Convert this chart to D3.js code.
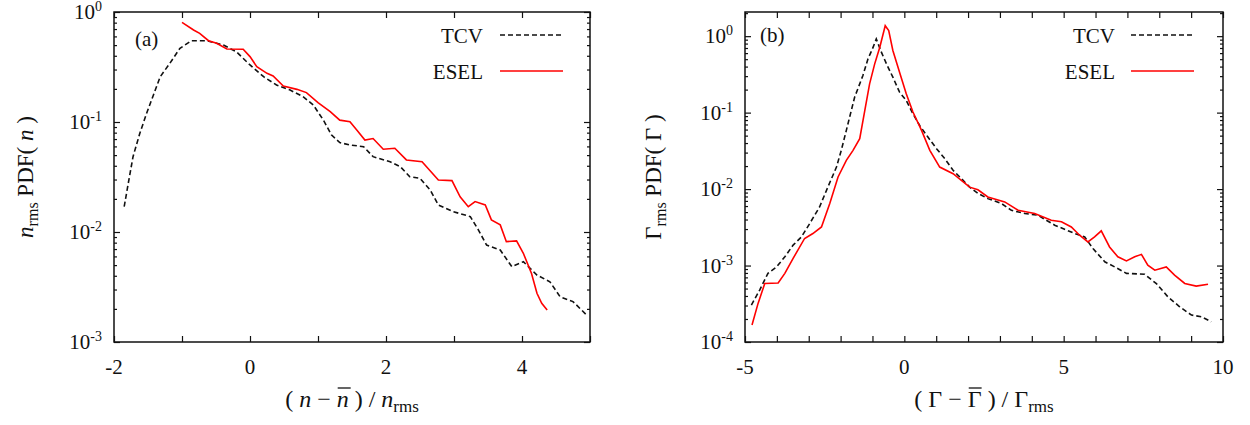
<!DOCTYPE html>
<html>
<head>
<meta charset="utf-8">
<script src="https://cdn.jsdelivr.net/npm/d3@7"></script>
<style>
  html, body { margin: 0; padding: 0; background: #fff; }
  svg text { font-family: "Liberation Serif", "Times New Roman", serif; fill: #111; }
</style>
</head>
<body>
<svg id="chart" width="1250" height="425" font-family="Liberation Serif, Times New Roman, serif"></svg>
<script>
// ---- data: normalised density PDFs (panel a) ----
const tcvDensity = [
  [-1.85,0.017],[-1.79,0.0277],[-1.72,0.0484],[-1.62,0.079],[-1.52,0.12],[-1.42,0.176],
  [-1.32,0.258],[-1.18,0.341],[-1.03,0.468],[-0.86,0.548],[-0.64,0.548],[-0.39,0.50],
  [-0.2,0.435],[0,0.33],[0.2,0.258],[0.39,0.217],[0.59,0.195],[0.78,0.170],[0.93,0.143],
  [1.08,0.104],[1.2,0.076],[1.32,0.065],[1.47,0.0618],[1.67,0.0597],[1.81,0.0484],
  [2.06,0.0435],[2.21,0.0393],[2.35,0.0318],[2.5,0.0308],[2.65,0.0241],[2.77,0.0176],
  [2.99,0.0153],[3.24,0.0138],[3.36,0.0104],[3.48,0.0076],[3.68,0.00686],[3.85,0.00484],
  [4.02,0.00537],[4.22,0.00406],[4.41,0.00353],[4.56,0.00258],[4.75,0.00233],[4.95,0.00176]
];
const eselDensity = [
  [-1.0,0.805],[-0.83,0.686],[-0.74,0.64],[-0.61,0.548],[-0.49,0.519],[-0.34,0.461],
  [-0.1,0.458],[0,0.393],[0.1,0.318],[0.25,0.277],[0.34,0.262],[0.49,0.212],[0.69,0.198],
  [0.83,0.185],[1.0,0.150],[1.18,0.124],[1.32,0.104],[1.47,0.1007],[1.57,0.0845],
  [1.69,0.0686],[1.81,0.0708],[1.96,0.0565],[2.13,0.0577],[2.3,0.0452],[2.53,0.0435],
  [2.77,0.0297],[2.97,0.0293],[3.09,0.0209],[3.21,0.017],[3.31,0.0189],[3.46,0.0176],
  [3.55,0.0129],[3.68,0.0116],[3.77,0.00817],[3.92,0.0083],[4.02,0.0064],[4.14,0.0042],
  [4.22,0.00277],[4.29,0.00225],[4.37,0.00195]
];

// ---- data: normalised particle flux PDFs (panel b) ----
const tcvFlux = [
  [-4.8,3.04e-4],[-4.54,4.78e-4],[-4.28,7.9e-4],[-4.01,9.6e-4],[-3.75,1.3e-3],[-3.49,1.85e-3],
  [-3.23,2.37e-3],[-2.97,3.54e-3],[-2.66,5.83e-3],[-2.4,0.0106],[-2.13,0.0194],[-1.98,0.032],
  [-1.82,0.0586],[-1.56,0.159],[-1.3,0.306],[-1.14,0.506],[-1.0,0.683],[-0.88,0.92],
  [-0.72,0.617],[-0.56,0.434],[-0.36,0.291],[-0.15,0.185],[0.06,0.144],[0.27,0.0966],
  [0.48,0.068],[0.74,0.0479],[1.01,0.0338],[1.27,0.025],[1.53,0.0176],[1.79,0.0137],
  [2.05,0.0106],[2.31,0.0088],[2.62,0.0075],[3.05,0.00647],[3.36,0.00528],[3.78,0.00479],
  [4.19,0.00455],[4.72,0.00337],[5.35,0.00262],[5.66,0.00237],[5.92,0.00167],[6.29,0.00112],
  [6.6,9.6e-4],[6.97,7.9e-4],[7.54,7.7e-4],[7.91,5.8e-4],[8.27,3.9e-4],[8.64,2.89e-4],
  [9.01,2.25e-4],[9.32,2.14e-4],[9.63,1.84e-4]
];
const eselFlux = [
  [-4.78,1.67e-4],[-4.59,3.2e-4],[-4.38,5.83e-4],[-3.96,5.9e-4],[-3.75,7.9e-4],[-3.49,1.24e-3],
  [-3.13,2.26e-3],[-2.87,2.62e-3],[-2.6,3.2e-3],[-2.34,6.47e-3],[-2.08,0.0144],[-1.82,0.0238],
  [-1.61,0.0321],[-1.4,0.0456],[-1.24,0.107],[-1.09,0.238],[-0.93,0.434],[-0.77,0.716],
  [-0.6,1.37],[-0.49,1.18],[-0.36,0.649],[-0.15,0.338],[0.06,0.177],[0.27,0.1017],
  [0.54,0.0586],[0.8,0.0321],[1.11,0.0194],[1.53,0.0159],[1.79,0.013],[2.05,0.0106],
  [2.31,0.0098],[2.62,0.0079],[3.15,0.0068],[3.57,0.00528],[4.09,0.00479],[4.61,0.00392],
  [4.93,0.00373],[5.24,0.0032],[5.5,0.00249],[5.76,0.00204],[5.97,0.00237],[6.18,0.00284],
  [6.44,0.00175],[6.7,0.0013],[6.97,0.00115],[7.23,0.0013],[7.44,0.0014],[7.64,0.00101],
  [7.86,8.7e-4],[8.22,9.6e-4],[8.48,7.5e-4],[8.8,5.83e-4],[9.16,5.38e-4],[9.53,5.7e-4]
];

// ---- axis ticks and labels ----
const xTicksA = [-2, -1, 0, 1, 2, 3, 4, 5];
const xLabelsA = [-2, 0, 2, 4];
const yDecadesA = [-3, -2, -1, 0];
const xTicksB = d3.range(-5, 11);
const xLabelsB = [-5, 0, 5, 10];
const yDecadesB = [-4, -3, -2, -1, 0];
const seriesNames = ["TCV", "ESEL"];
const seriesColors = ["#111", "#ff0000"];
const seriesDash = ["5,3", null];

const svg = d3.select("#chart");

function minorLogTicks(dom) {
  const out = [];
  const lo = Math.floor(Math.log10(dom[0])), hi = Math.ceil(Math.log10(dom[1]));
  for (let e = lo; e <= hi; e++) {
    for (let k = 2; k <= 9; k++) {
      const v = k * Math.pow(10, e);
      if (v > dom[0] && v < dom[1]) out.push(v);
    }
  }
  return out;
}

function drawPanel(p) {
  const g = svg.append("g");
  const x = d3.scaleLinear().domain(p.xDomain).range([p.left, p.right]);
  const y = d3.scaleLog().domain(p.yDomain).range([p.bottom, p.top]);
  const major = 6, minor = 3;

  const tickAxis = (axis, pos, vals, size) => {
    g.append("g").attr("transform", pos)
      .call(axis.tickValues(vals).tickSize(size).tickFormat(""))
      .call(s => s.select(".domain").remove())
      .call(s => s.selectAll("line").attr("stroke", "#111").attr("stroke-width", 1.2));
  };
  // x ticks, bottom and top, drawn inward
  tickAxis(d3.axisBottom(x), `translate(0,${p.bottom})`, p.xTicks, -major);
  tickAxis(d3.axisTop(x), `translate(0,${p.top})`, p.xTicks, -major);
  // y ticks on both sides
  const decades = p.yDecades.map(e => Math.pow(10, e));
  const minors = minorLogTicks(p.yDomain);
  tickAxis(d3.axisLeft(y), `translate(${p.left},0)`, decades, -major);
  tickAxis(d3.axisRight(y), `translate(${p.right},0)`, decades, -major);
  tickAxis(d3.axisLeft(y), `translate(${p.left},0)`, minors, -minor);
  tickAxis(d3.axisRight(y), `translate(${p.right},0)`, minors, -minor);

  // frame
  g.append("rect")
    .attr("x", p.left).attr("y", p.top)
    .attr("width", p.right - p.left).attr("height", p.bottom - p.top)
    .attr("fill", "none").attr("stroke", "#111").attr("stroke-width", 1.5);

  // x tick labels
  g.selectAll(".xl").data(p.xLabels).enter().append("text")
    .attr("x", d => x(d)).attr("y", p.bottom + 32)
    .attr("text-anchor", "middle").attr("font-size", 21)
    .text(d => d < 0 ? "-" + Math.abs(d) : d);

  // y tick labels: 10^e
  p.yDecades.forEach(e => {
    const t = g.append("text")
      .attr("x", p.left - 12).attr("y", y(Math.pow(10, e)) + 7)
      .attr("text-anchor", "end").attr("font-size", 21);
    t.append("tspan").text("10");
    t.append("tspan").attr("font-size", 14).attr("dy", -8).text(e === 0 ? "0" : "-" + Math.abs(e));
  });

  // curves
  const line = d3.line().x(d => x(d[0])).y(d => y(d[1]));
  p.series.forEach((s, i) => {
    g.append("path").datum(s)
      .attr("d", line).attr("fill", "none")
      .attr("stroke", seriesColors[i]).attr("stroke-width", 1.6)
      .attr("stroke-dasharray", seriesDash[i]);
  });

  // legend
  seriesNames.forEach((name, i) => {
    const ly = p.legendY + i * 36;
    g.append("text").attr("x", p.legendTextX).attr("y", ly + 8)
      .attr("text-anchor", "end").attr("font-size", 21).text(name);
    g.append("line")
      .attr("x1", p.legendLineX).attr("x2", p.legendLineX + 63)
      .attr("y1", ly).attr("y2", ly)
      .attr("stroke", seriesColors[i]).attr("stroke-width", 1.6)
      .attr("stroke-dasharray", seriesDash[i]);
  });

  // panel tag
  g.append("text").attr("x", p.tagX).attr("y", p.tagY)
    .attr("font-size", 21).text(p.tag);

  const it = p.symItalic ? "italic" : null;

  // y axis title (rotated)
  const yt = g.append("text")
    .attr("transform", `translate(${p.yTitleX},${(p.top + p.bottom) / 2}) rotate(-90)`)
    .attr("text-anchor", "middle").attr("font-size", 23);
  yt.append("tspan").attr("font-style", it).text(p.sym);
  yt.append("tspan").attr("font-size", 16).attr("dy", 5).text("rms");
  yt.append("tspan").attr("dy", -5).text(" PDF( ");
  yt.append("tspan").attr("font-style", it).text(p.sym);
  yt.append("tspan").text(" )");

  // x axis title: ( s − s̄ ) / s_rms
  const xtY = p.bottom + 65;
  const xt = g.append("text")
    .attr("x", (p.left + p.right) / 2).attr("y", xtY)
    .attr("text-anchor", "middle").attr("font-size", 24);
  xt.append("tspan").text("( ");
  xt.append("tspan").attr("font-style", it).text(p.sym);
  xt.append("tspan").text(" \u2212 ");
  xt.append("tspan").attr("font-style", it).text(p.sym);
  xt.append("tspan").text(" ) / ");
  xt.append("tspan").attr("font-style", it).text(p.sym);
  xt.append("tspan").attr("font-size", 17).attr("dy", 5).text("rms");

  // overline above the mean symbol
  const node = xt.node();
  const full = node.textContent;
  const idx = full.indexOf(p.sym, full.indexOf("\u2212"));
  const s0 = node.getStartPositionOfChar(idx);
  const e0 = node.getEndPositionOfChar(idx);
  g.append("line")
    .attr("x1", s0.x + 1).attr("x2", e0.x + (p.symItalic ? 2 : 0))
    .attr("y1", xtY - 19).attr("y2", xtY - 19)
    .attr("stroke", "#111").attr("stroke-width", 1.3);
}

drawPanel({
  left: 114, right: 590, top: 12, bottom: 342,
  xDomain: [-2, 5], yDomain: [1e-3, 1],
  xTicks: xTicksA, xLabels: xLabelsA, yDecades: yDecadesA,
  series: [tcvDensity, eselDensity],
  legendTextX: 483, legendLineX: 500, legendY: 35,
  tag: "(a)", tagX: 135, tagY: 46,
  yTitleX: 33, sym: "n", symItalic: true
});

drawPanel({
  left: 745, right: 1223, top: 12, bottom: 342,
  xDomain: [-5, 10], yDomain: [1e-4, 2.07],
  xTicks: xTicksB, xLabels: xLabelsB, yDecades: yDecadesB,
  series: [tcvFlux, eselFlux],
  legendTextX: 1115, legendLineX: 1131, legendY: 35,
  tag: "(b)", tagX: 760, tagY: 42,
  yTitleX: 661, sym: "\u0393", symItalic: false
});
</script>
</body>
</html>
